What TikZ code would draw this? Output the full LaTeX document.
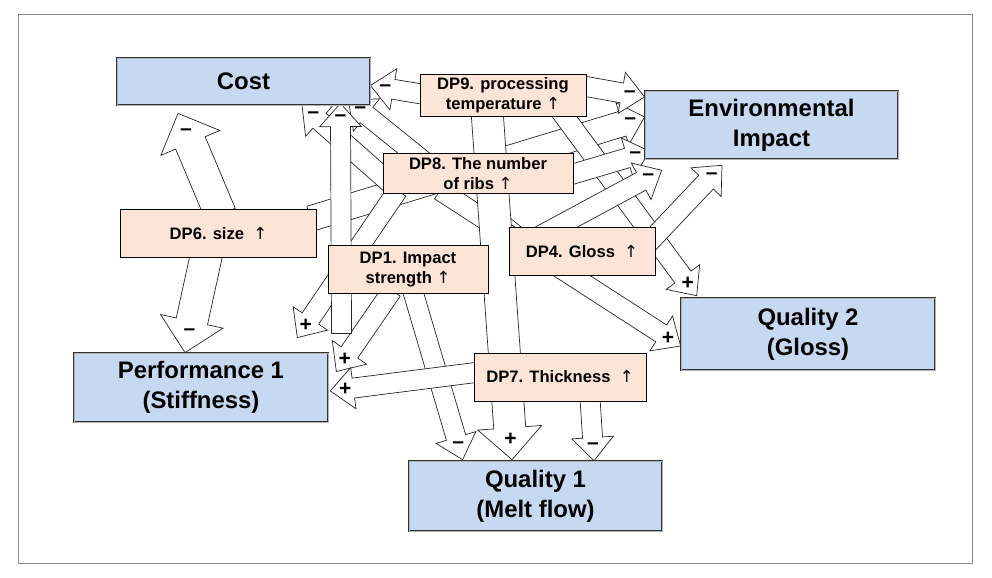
\documentclass[tikz,border=0pt]{standalone}
\usepackage{fontspec}
\setmainfont{Liberation Sans}
\newfontfamily\arrowfont{DejaVu Sans}
\usetikzlibrary{calc}
\pgfdeclarelayer{background}
\pgfsetlayers{background,main}
\definecolor{goalblue}{RGB}{198,217,241}
\definecolor{dporange}{RGB}{252,228,214}
\tikzstyle{goal}=[draw=black!80, double=black!30, double distance=0.4pt,
  fill=goalblue, align=center, inner sep=2pt,
  font=\bfseries\fontsize{17}{21.5}\selectfont]
\tikzstyle{dpbox}=[draw, fill=dporange, align=center, inner sep=2pt,
  line width=0.6pt, font=\bfseries\fontsize{11.8}{14}\selectfont]
\tikzstyle{blockarr}=[draw=black!85, fill=white, line width=0.5pt,
  line join=miter]
\tikzstyle{sign}=[inner sep=0pt, font=\bfseries\fontsize{15}{15}\selectfont]
\tikzset{arr shaft/.store in=\arrshaft, arr head/.store in=\arrhead,
  arr len/.store in=\arrlen, arr shaft=2.5mm, arr head=5.2mm, arr len=5.8mm,
  widearr/.style={arr shaft=4mm, arr head=8mm, arr len=8mm}}
\newcommand{\up}{{\arrowfont\mdseries ↑}}
\newcommand{\goalnode}[3]{node (#1) [goal,#2] {#3}}
\newcommand{\dpnode}[3]{node (#1) [dpbox,#2] {#3}}
\newcommand{\dparrow}[4][]{%
  \begin{scope}[#1]
    \coordinate (atail) at (#2);
    \coordinate (atip) at (#3);
    \coordinate (abase) at ($(atip)!\arrlen!(atail)$);
    \draw[blockarr] ($(atail)!\arrshaft!90:(atip)$)
      -- ($(abase)!\arrshaft!90:(atip)$) -- ($(abase)!\arrhead!90:(atip)$)
      -- (atip) -- ($(abase)!\arrhead!-90:(atip)$)
      -- ($(abase)!\arrshaft!-90:(atip)$) -- ($(atail)!\arrshaft!-90:(atip)$)
      -- cycle;
    \node[sign] at ($(abase)!0.35!(atip)$) {#4};
  \end{scope}}

\begin{document}
\begin{tikzpicture}[x=0.025cm, y=-0.025cm]
  \useasboundingbox (0,0) rectangle (992,578);

  % Draw diagram elements
  \path (243.5,81.5) \goalnode{cost}{minimum width=6.33cm, minimum height=1.18cm}{Cost};
  \path (771.5,125) \goalnode{ei}{minimum width=6.33cm, minimum height=1.7cm}{Environmental\\Impact};
  \path (808,334) \goalnode{q2}{minimum width=6.35cm, minimum height=1.8cm}{Quality 2\\(Gloss)};
  \path (201,387.5) \goalnode{perf}{minimum width=6.35cm, minimum height=1.73cm}{Performance 1\\(Stiffness)};
  \path (535.5,496) \goalnode{q1}{minimum width=6.33cm, minimum height=1.75cm}{Quality 1\\(Melt flow)};

  \path (503,95.5) \dpnode{dp9}{minimum width=4.15cm, minimum height=1.03cm}{DP9. processing\\temperature \up};
  \path (478,173.5) \dpnode{dp8}{minimum width=4.75cm, minimum height=0.98cm}{DP8. The number\\of ribs \up};
  \path (218.5,233.5) \dpnode{dp6}{minimum width=4.88cm, minimum height=1.18cm}{DP6. size \ \up};
  \path (408,269.5) \dpnode{dp1}{minimum width=4.0cm, minimum height=1.18cm}{DP1. Impact\\strength \up};
  \path (582,251.5) \dpnode{dp4}{minimum width=3.65cm, minimum height=1.18cm}{DP4. Gloss \ \up};
  \path (560,377) \dpnode{dp7}{minimum width=4.3cm, minimum height=1.2cm}{DP7. Thickness \ \up};

  % Draw the arrows behind the boxes
  \begin{pgfonlayer}{background}
    \draw[black!45] (18,14) rectangle (972,563);
    \dparrow[widearr]{$(dp6.north)+(2,5)$}{$(cost.south)+(-65.5,8)$}{\textendash}
    \dparrow[widearr]{$(dp6.south)+(-12,-3)$}{$(perf.north)+(-16,0)$}{\textendash}
    \dparrow[arr shaft=3.2mm, arr head=5.5mm]{$(dp6.east)+(-6,-15)$}{$(ei.west)+(0,-8)$}{\textendash}
    \dparrow{$(dp9.west)+(5,-1)$}{$(cost.east)+(0,4)$}{\textendash}
    \dparrow{$(dp9.east)+(-6,-10)$}{$(ei.west)+(0,-28)$}{\textendash}
    \dparrow{$(dp9.south)+(57,-6)$}{$(q2.north west)+(16,-2)$}{+}
    \dparrow{$(dp8.west)+(9,11)$}{$(cost.south)+(58.5,0)$}{\textendash}
    \dparrow{$(dp4.north west)+(6,7)$}{$(cost.south east)+(-22,-5)$}{\textendash}
    \dparrow{$(dp8.east)+(-7,2.5)$}{$(ei.south west)+(5,-8)$}{\textendash}
    \dparrow{$(dp8.south)+(-38,-3)$}{$(q2.west)+(0,12)$}{+}
    \dparrow{$(dp1.east)+(-8,-1.5)$}{$(ei.south west)+(17,11)$}{\textendash}
    \dparrow{$(dp4.east)+(-7,-8.5)$}{$(ei.south)+(-49.5,6)$}{\textendash}
    \dparrow{$(dp8.south west)+(15,-3)$}{$(perf.north east)+(-31,-15)$}{+}
    \dparrow{$(dp1.south)+(4,-5)$}{$(q1.north west)+(54,-1)$}{\textendash}
    \dparrow{$(dp1.south)+(-16,-3)$}{$(perf.east)+(8,-16)$}{+}
    \dparrow{$(dp1.south west)+(14,40)$}{$(cost.south east)+(-30,-2)$}{\textendash}
    \dparrow{$(dp7.west)+(6,-5)$}{$(perf.east)+(2,3.5)$}{+}
    \dparrow[widearr]{$(dp9.south)+(-16,-6)$}{$(q1.north)+(-23.5,-1)$}{+}
    \dparrow{$(dp7.south)+(30,-3)$}{$(q1.north)+(58.5,0)$}{\textendash}
  \end{pgfonlayer}
\end{tikzpicture}
\end{document}
